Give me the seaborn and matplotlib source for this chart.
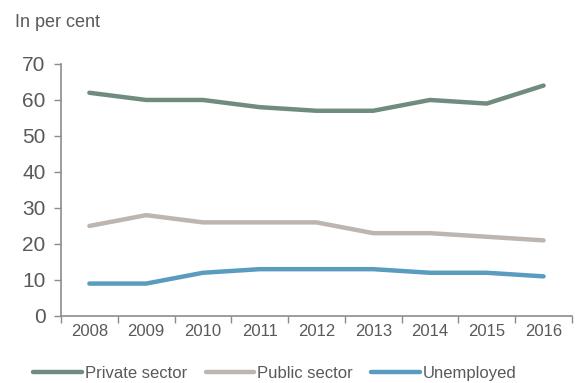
import matplotlib
matplotlib.use("Agg")
import matplotlib.pyplot as plt
import seaborn as sns
import pandas as pd
import numpy as np
from matplotlib.ticker import FixedLocator

years = ["2008", "2009", "2010", "2011", "2012", "2013", "2014", "2015", "2016"]
private_sector = [62, 60, 60, 58, 57, 57, 60, 59, 64]
public_sector = [25, 28, 26, 26, 26, 23, 23, 22, 21]
unemployed = [9, 9, 12, 13, 13, 13, 12, 12, 11]
series_names = ["Private sector", "Public sector", "Unemployed"]
colors = ["#6f8c7e", "#bcb5b0", "#5a9bc0"]

sns.set_theme(style="white")
plt.rcParams["font.family"] = ["Liberation Sans", "DejaVu Sans"]

rows = []
for name, vals in zip(series_names, [private_sector, public_sector, unemployed]):
    for i, (y, v) in enumerate(zip(years, vals)):
        rows.append({"pos": i, "year": y, "value": v, "series": name})
df = pd.DataFrame(rows)

fig = plt.figure(figsize=(5.78, 3.83), dpi=100)
ax = fig.add_axes([0.1055, 0.175, 0.884, 0.658])
sns.lineplot(data=df, x="pos", y="value", hue="series", palette=colors,
             hue_order=series_names, linewidth=3.2, ax=ax, legend=True)

txt = "#595959"
spine = "#8c8c8c"
ax.set_xlim(-0.5, len(years) - 0.5)
ax.set_ylim(0, 70)
ax.set_yticks(range(0, 71, 10))
ax.set_xticks(range(len(years)))
ax.set_xticklabels(years)
ax.xaxis.set_minor_locator(FixedLocator(np.arange(-0.5, len(years), 1.0)))
ax.tick_params(axis="x", which="major", length=0, labelsize=12, colors=txt, pad=6)
ax.tick_params(axis="x", which="minor", length=5, width=1, color=spine, bottom=True)
ax.tick_params(axis="y", which="major", length=5, width=1, color=spine, left=True,
               labelsize=15, labelcolor=txt, pad=6)
for s in ["top", "right"]:
    ax.spines[s].set_visible(False)
for s in ["left", "bottom"]:
    ax.spines[s].set_color(spine)
    ax.spines[s].set_linewidth(1.2)
ax.set_xlabel("")
ax.set_ylabel("")
ax.grid(False)

fig.text(0.026, 0.94, "In per cent", fontsize=13, color=txt, ha="left", va="center")

handles, labels = ax.get_legend_handles_labels()
ax.legend_.remove()
fig.legend(handles, labels, loc="center", bbox_to_anchor=(0.476, 0.025), ncol=3,
           frameon=False, fontsize=12, labelcolor=txt, handlelength=2.9,
           handletextpad=0.2, columnspacing=1.1)

fig.savefig("out.png", dpi=100)
